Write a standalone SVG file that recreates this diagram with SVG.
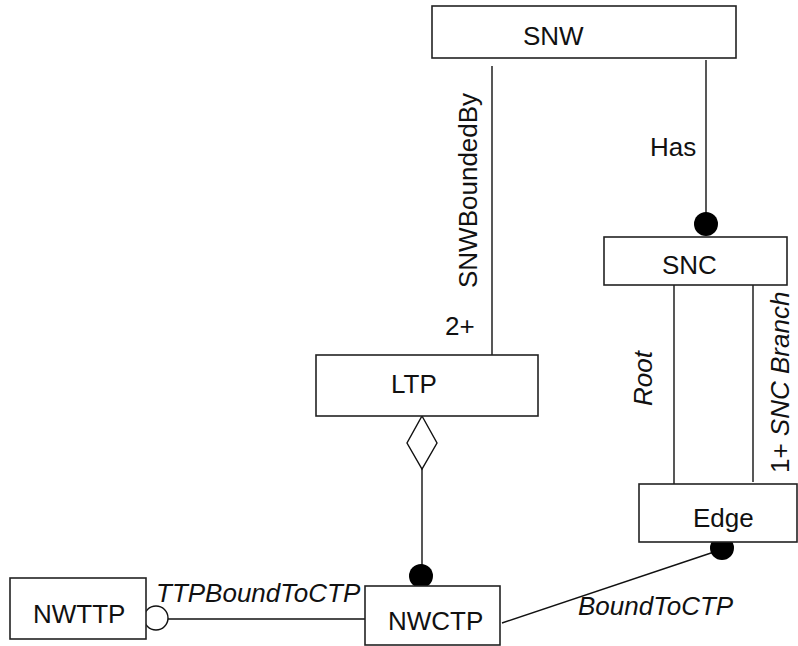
<svg xmlns="http://www.w3.org/2000/svg" width="798" height="646" viewBox="0 0 798 646">
<style>
.box{fill:#fff;stroke:#222;stroke-width:1.6}
.ln{stroke:#111;stroke-width:1.4;fill:none}
.dot{fill:#000}
.hol{fill:#fff;stroke:#111;stroke-width:1.4}
text{font-family:"Liberation Sans",Arial,sans-serif;font-size:26px;fill:#111}
.it{font-style:italic}
</style>
<rect width="798" height="646" fill="#fff"/>
<g id="connectors">
<line class="ln" x1="492" y1="66" x2="492" y2="355"/>
<text transform="translate(477,288) rotate(-90)">SNWBoundedBy</text>
<text x="445" y="335">2+</text>
<line class="ln" x1="706" y1="60" x2="706" y2="214"/>
<circle class="dot" cx="706" cy="224" r="12"/>
<text x="650" y="156">Has</text>
<line class="ln" x1="674" y1="285" x2="674" y2="490"/>
<text class="it" transform="translate(652,406) rotate(-90)">Root</text>
<line class="ln" x1="753" y1="285" x2="753" y2="482"/>
<text transform="translate(789,473) rotate(-90)">1+ <tspan class="it">SNC Branch</tspan></text>
<polygon class="hol" points="422,416 437,443 422,469 407,443"/>
<line class="ln" x1="422" y1="469" x2="422" y2="566"/>
<circle class="dot" cx="421" cy="576" r="12"/>
<line class="ln" x1="168" y1="619" x2="370" y2="619"/>
<circle class="hol" cx="156" cy="618" r="12"/>
<text class="it" x="156" y="602">TTPBoundToCTP</text>
<line class="ln" x1="502" y1="623" x2="714" y2="552"/>
<circle class="dot" cx="722" cy="548" r="12"/>
<text class="it" x="578" y="615">BoundToCTP</text>
</g>
<g id="SNW"><rect class="box" x="432" y="6" width="304" height="52"/><text x="523" y="45">SNW</text></g>
<g id="SNC"><rect class="box" x="604" y="237" width="183" height="48"/><text x="662" y="274">SNC</text></g>
<g id="LTP"><rect class="box" x="316" y="355" width="222" height="61"/><text x="391" y="393">LTP</text></g>
<g id="Edge"><rect class="box" x="639" y="484" width="158" height="58"/><text x="693" y="527">Edge</text></g>
<g id="NWCTP"><rect class="box" x="365" y="586" width="135" height="59"/><text x="388" y="630">NWCTP</text></g>
<g id="NWTTP"><rect class="box" x="10" y="578" width="136" height="61"/><text x="33" y="623">NWTTP</text></g>
</svg>
